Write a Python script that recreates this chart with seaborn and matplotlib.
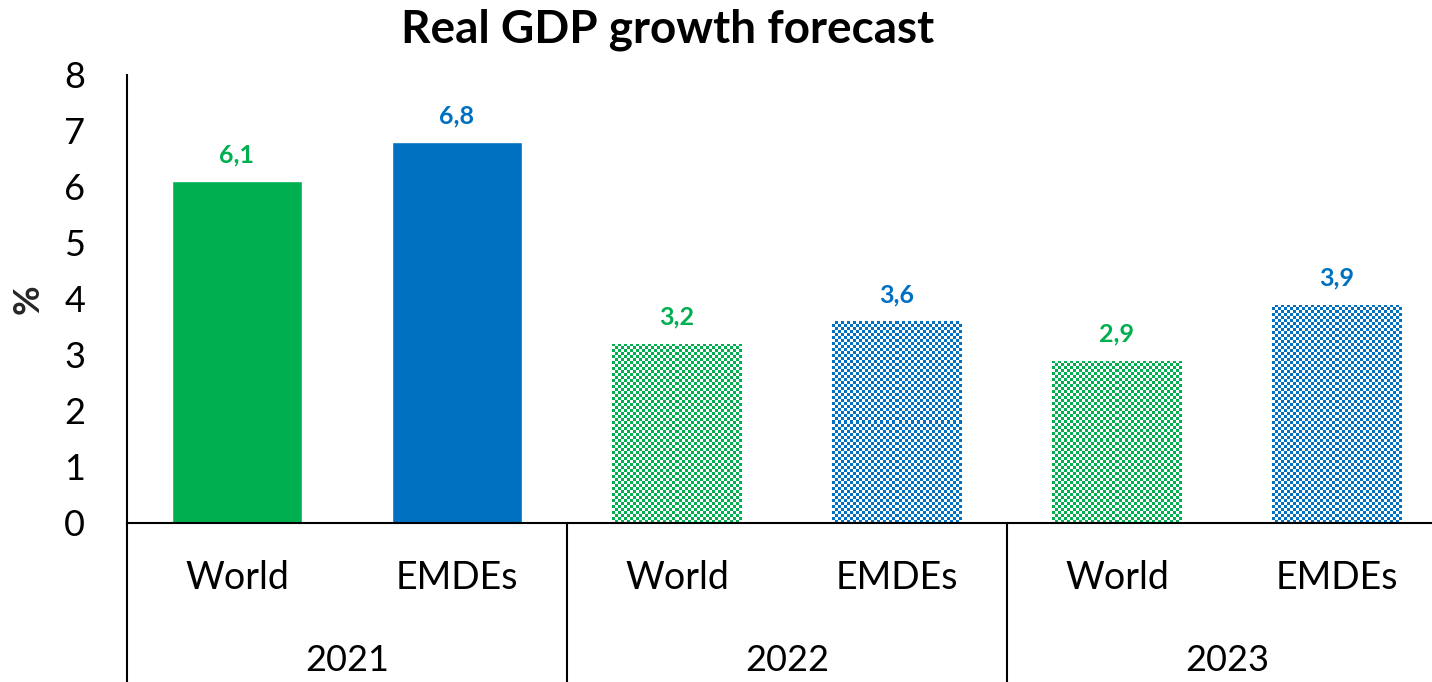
import numpy as np
import pandas as pd
import matplotlib
matplotlib.use("Agg")
import matplotlib.pyplot as plt
from matplotlib.colors import ListedColormap
from matplotlib.transforms import blended_transform_factory
import seaborn as sns

# Data
years = ["2021", "2022", "2023"]
regions = ["World", "EMDEs"]
values = [6.1, 6.8, 3.2, 3.6, 2.9, 3.9]
value_labels = ["6,1", "6,8", "3,2", "3,6", "2,9", "3,9"]
forecast = [False, False, True, True, True, True]

GREEN = "#00B050"
BLUE = "#0070C0"
region_colors = {"World": GREEN, "EMDEs": BLUE}

slots = [f"{y} {r}" for y in years for r in regions]
slot_regions = [r for _ in years for r in regions]
df = pd.DataFrame({"slot": slots, "region": slot_regions, "value": values})
colors = [region_colors[r] for r in slot_regions]

sns.set_theme(style="white")
plt.rcParams["font.family"] = ["Lato", "DejaVu Sans"]

W, H, DPI = 1432, 682, 100
fig = plt.figure(figsize=(W / DPI, H / DPI), dpi=DPI)
ax_left, ax_right, ax_top, ax_bottom = 127, 1447, 75, 523
ax = fig.add_axes([ax_left / W, 1 - ax_bottom / H,
                   (ax_right - ax_left) / W, (ax_bottom - ax_top) / H])

sns.barplot(data=df, x="slot", y="value", hue="slot", palette=colors,
            legend=False, width=0.59, ax=ax, saturation=1, order=slots,
            hue_order=slots)

ax.set_xlim(-0.5, len(slots) - 0.5)
ax.set_ylim(0, 8)

# Checkerboard fill for forecast years
px_per_x = (ax_right - ax_left) / len(slots)
px_per_y = (ax_bottom - ax_top) / 8
cell = 3.0
for patch, is_fc, col in zip(ax.patches, forecast, colors):
    if not is_fc:
        continue
    x0, w, h = patch.get_x(), patch.get_width(), patch.get_height()
    nx = max(1, int(round(w * px_per_x / cell)))
    ny = max(1, int(round(h * px_per_y / cell)))
    board = (np.add.outer(np.arange(ny), np.arange(nx)) % 2).astype(float)
    patch.set_facecolor("white")
    im = ax.imshow(board, extent=[x0, x0 + w, 0, h], origin="lower",
                   aspect="auto", interpolation="nearest",
                   cmap=ListedColormap(["white", col]), vmin=0, vmax=1,
                   zorder=patch.get_zorder() + 0.1)
    im.set_clip_path(patch)

ax.set_xlim(-0.5, len(slots) - 0.5)
ax.set_ylim(0, 8)
ax.set_aspect("auto")

# Value labels
for i, (v, lab) in enumerate(zip(values, value_labels)):
    ax.annotate(lab, (i, v), xytext=(0, 19), textcoords="offset points",
                ha="center", va="center", fontsize=18, fontweight="bold",
                color=colors[i])

# Axes styling
for s in ["top", "right"]:
    ax.spines[s].set_visible(False)
ax.spines["left"].set_color("black")
ax.spines["bottom"].set_color("black")
ax.spines["left"].set_linewidth(1.5)
ax.spines["bottom"].set_linewidth(1.5)
ax.set_yticks(range(0, 9))
ax.tick_params(axis="y", length=0, pad=30, labelsize=26, labelcolor="black")
ax.set_xticks([])
ax.set_xlabel("")
ax.set_ylabel("%", fontsize=26, fontweight="bold", labelpad=14)

# Two-level category axis
tr = blended_transform_factory(ax.transData, ax.transAxes)
for i, r in enumerate(slot_regions):
    ax.text(i, -0.123, r, transform=tr, ha="center", va="center",
            fontsize=27, color="black")
for k, y in enumerate(years):
    ax.text(2 * k + 0.5, -0.306, y, transform=tr, ha="center", va="center",
            fontsize=26, color="black")
for xb in [-0.5, 1.5, 3.5, 5.5]:
    ax.plot([xb, xb], [0, -0.4], transform=tr, color="black", lw=1.5,
            clip_on=False)

fig.text(0.466, 1 - 30 / H, "Real GDP growth forecast", ha="center",
         va="center", fontsize=33, fontweight="bold", color="black")

fig.savefig("out.png", dpi=DPI)
